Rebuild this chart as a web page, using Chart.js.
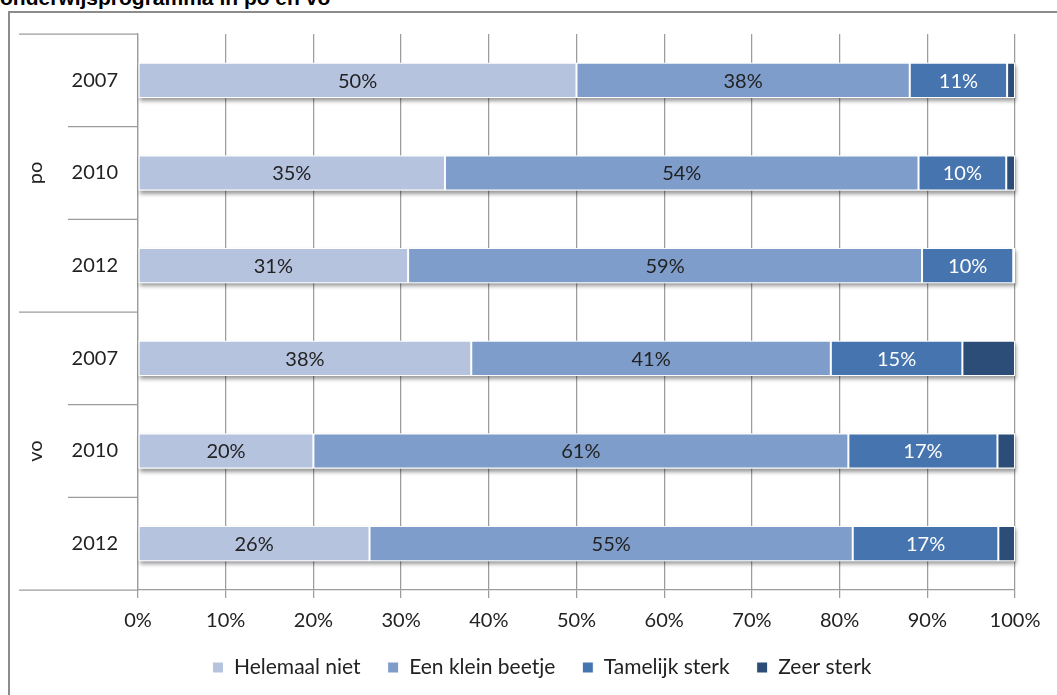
<!DOCTYPE html>
<html>
<head>
<meta charset="utf-8">
<script src="https://cdn.jsdelivr.net/npm/chart.js@4"></script>
<style>
  body { margin: 0; background: #fff; overflow: hidden; }
  #wrap { position: relative; width: 1057px; height: 695px; overflow: hidden; }
  #title { position: absolute; left: 0; top: -13px; font: bold 21px "Liberation Sans", Arial, sans-serif; line-height: 21px; color: #000; white-space: nowrap; }
  #frame { position: absolute; left: 8px; top: 11px; width: 1200px; height: 800px; border-left: 2px solid #8c8c8c; border-top: 2px solid #8c8c8c; }
  #chart { position: absolute; left: 0; top: 0; }
</style>
</head>
<body>
<div id="wrap">
  <div id="title">onderwijsprogramma in po en vo</div>
  <div id="frame"></div>
  <canvas id="chart" width="1057" height="695"></canvas>
</div>
<script>
// DATA
const groups = ['po', 'vo'];
const years = ['2007', '2010', '2012', '2007', '2010', '2012'];
const helemaalNiet = [50, 35, 30.8, 38, 20, 26.4];
const kleinBeetje = [38, 54, 58.6, 41, 61, 55.1];
const tamelijkSterk = [11.1, 10, 10.4, 15, 17, 16.6];
const zeerSterk = [0.9, 1, 0.2, 6, 2, 1.9];
const seriesNames = ['Helemaal niet', 'Een klein beetje', 'Tamelijk sterk', 'Zeer sterk'];
const colors = ['#b6c3df', '#7e9dcb', '#4674af', '#2c4d77'];

Chart.defaults.font.family = 'Lato, "Open Sans", sans-serif';
Chart.defaults.font.size = 20;
Chart.defaults.color = '#222';

const GRID = '#9c9c9c';

// shadows, data labels, grouped category axis
const extras = {
  id: 'extras',
  beforeDatasetsDraw(chart) {
    const ctx = chart.ctx;
    const metas = chart.getSortedVisibleDatasetMetas();
    ctx.save();
    ctx.shadowColor = 'rgba(0,0,0,0.4)';
    ctx.shadowBlur = 4;
    ctx.shadowOffsetX = 1;
    ctx.shadowOffsetY = 3;
    ctx.fillStyle = '#fff';
    years.forEach((yr, i) => {
      const first = metas[0].data[i];
      const last = metas[metas.length - 1].data[i];
      ctx.fillRect(first.base, first.y - first.height / 2, last.x - first.base, first.height);
    });
    ctx.restore();
  },
  afterDatasetsDraw(chart) {
    const ctx = chart.ctx;
    ctx.save();
    ctx.font = '20px Lato, "Open Sans", sans-serif';
    ctx.textAlign = 'center';
    ctx.textBaseline = 'middle';
    chart.getSortedVisibleDatasetMetas().forEach(meta => {
      if (meta.index > 2) return;
      meta.data.forEach((el, i) => {
        const v = chart.data.datasets[meta.index].data[i];
        const p = el.getCenterPoint();
        ctx.fillStyle = meta.index === 2 ? '#fff' : '#222';
        ctx.fillText(Math.round(v) + '%', p.x, p.y + 1);
      });
    });
    ctx.restore();
  },
  afterDraw(chart) {
    const {ctx, chartArea, scales: {y}} = chart;
    const step = y.getPixelForValue(1) - y.getPixelForValue(0);
    ctx.save();
    ctx.strokeStyle = GRID;
    ctx.lineWidth = 1.25;
    for (let i = 0; i <= years.length; i++) {
      const py = y.getPixelForValue(i) - step / 2;
      const long = i % 3 === 0;
      ctx.beginPath();
      ctx.moveTo(long ? 19 : 68, py);
      ctx.lineTo(chartArea.left, py);
      ctx.stroke();
    }
    ctx.font = '20px Lato, "Open Sans", sans-serif';
    ctx.fillStyle = '#222';
    ctx.textAlign = 'center';
    ctx.textBaseline = 'middle';
    groups.forEach((g, gi) => {
      const cy = y.getPixelForValue(gi * 3 + 1);
      ctx.save();
      ctx.translate(36, cy);
      ctx.rotate(-Math.PI / 2);
      ctx.fillText(g, 0, 0);
      ctx.restore();
    });
    ctx.restore();
  }
};

const ctx = document.getElementById('chart');

new Chart(ctx, {
  type: 'bar',
  data: {
    labels: years,
    datasets: [helemaalNiet, kleinBeetje, tamelijkSterk, zeerSterk].map((d, i) => ({
      label: seriesNames[i],
      data: d,
      backgroundColor: colors[i],
      borderColor: '#fff',
      borderWidth: 1,
      borderSkipped: false,
      categoryPercentage: 1,
      barPercentage: 0.38,
    })),
  },
  options: {
    indexAxis: 'y',
    responsive: false,
    animation: false,
    layout: { padding: { top: 34, right: 42, bottom: 7, left: 69 } },
    scales: {
      x: {
        stacked: true,
        min: 0,
        max: 100,
        ticks: { stepSize: 10, callback: v => v + '%', padding: 11 },
        grid: { color: GRID, lineWidth: 1.25, tickLength: 8 },
        border: { color: GRID, width: 1.25 },
        afterFit: s => { s.height = 40; },
      },
      y: {
        stacked: true,
        ticks: { padding: 20 },
        grid: { display: false, drawTicks: false },
        border: { color: GRID, width: 1.25 },
        afterFit: s => { s.width = 69; },
      },
    },
    plugins: {
      legend: {
        position: 'bottom',
        labels: { boxWidth: 11, boxHeight: 11, padding: 27, font: { size: 21 } },
      },
      tooltip: { enabled: false },
    },
  },
  plugins: [extras],
});
</script>
</body>
</html>
